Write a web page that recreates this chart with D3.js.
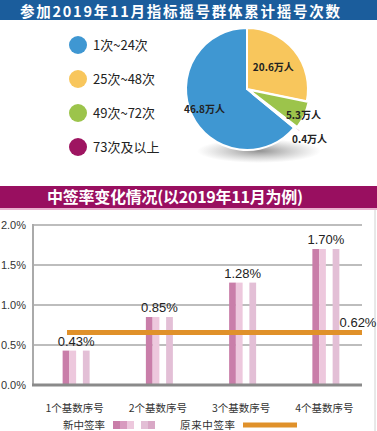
<!DOCTYPE html>
<html>
<head>
<meta charset="utf-8">
<script src="https://cdn.jsdelivr.net/npm/d3@7"></script>
<style>
  body { margin: 0; background: #fff; }
  svg { display: block; }
</style>
</head>
<body>
<svg id="chart" width="377" height="431"></svg>
<script>

// pie data: cumulative lottery count groups (10k people)
let pieCats = ["1次~24次", "25次~48次", "49次~72次", "73次及以上"];
let pieValues = [46.8, 20.6, 5.3, 0.4];
let pieColors = ["#3f97d2", "#f8c65c", "#9cc44b", "#9e1561"];

// bar data: winning rate by number of base numbers
let barCats = ["1个基数序号", "2个基数序号", "3个基数序号", "4个基数序号"];
let newRate = [0.43, 0.85, 1.28, 1.70];
let oldRate = 0.62;
let yTicks = [0, 0.5, 1.0, 1.5, 2.0];

let fontCJK = "'Noto Sans CJK SC', 'Noto Sans', sans-serif";
let fontNum = "'Liberation Sans', Arial, sans-serif";

var svg = d3.select("#chart");
var defs = svg.append("defs");

// ---------- top header ----------
svg.append("rect")
    .attr("x", 0).attr("y", 0)
    .attr("width", 377).attr("height", 20)
    .attr("fill", "#1b5d9c");

svg.append("text")
    .attr("x", 20).attr("y", 17)
    .attr("fill", "#fff")
    .attr("font-family", fontCJK)
    .attr("font-weight", "bold")
    .attr("font-size", 14.5)
    .attr("textLength", 320)
    .text("参加2019年11月指标摇号群体累计摇号次数");

// ---------- pie ----------
let total = d3.sum(pieValues);
let start = -pieValues[0] / total * 2 * Math.PI;
let pie = d3.pie().sort(null).startAngle(start).endAngle(start + 2 * Math.PI);
let arcs = pie(pieValues);

let cx = 247, cy = 89, r = 61;

// shadow under the pie
let grad = defs.append("radialGradient").attr("id", "shadow");
grad.append("stop").attr("offset", "0%").attr("stop-color", "#777").attr("stop-opacity", 0.8);
grad.append("stop").attr("offset", "100%").attr("stop-color", "#999").attr("stop-opacity", 0);

svg.append("ellipse")
    .attr("cx", cx + 12).attr("cy", cy + 62)
    .attr("rx", 62).attr("ry", 12)
    .attr("fill", "url(#shadow)");

let arc = d3.arc().innerRadius(0).outerRadius(r);
let explode = [0, 0, 2, 7];

let pieG = svg.append("g").attr("transform", `translate(${cx},${cy})`);

pieG.selectAll("path")
    .data(arcs)
    .enter()
    .append("path")
    .attr("d", arc)
    .attr("fill", (d, i) => pieColors[i])
    .attr("stroke", "#fff")
    .attr("stroke-width", 2)
    .attr("transform", (d, i) => {
        let a = (d.startAngle + d.endAngle) / 2;
        return `translate(${Math.sin(a) * explode[i]},${-Math.cos(a) * explode[i]})`;
    });

// value labels on pie
let labelR = [47, 34, 62, 80];
pieG.selectAll("text.val")
    .data(arcs)
    .enter()
    .append("text")
    .attr("class", "val")
    .attr("x", (d, i) => Math.sin((d.startAngle + d.endAngle) / 2) * labelR[i])
    .attr("y", (d, i) => -Math.cos((d.startAngle + d.endAngle) / 2) * labelR[i] + 4)
    .attr("text-anchor", "middle")
    .attr("font-family", fontCJK)
    .attr("font-weight", "bold")
    .attr("font-size", 10)
    .attr("fill", "#222")
    .text(d => d.data + "万人");

// legend
let legY = d3.scalePoint().domain(pieCats).range([45, 147]);

let leg = svg.append("g")
    .selectAll("g")
    .data(pieCats)
    .enter()
    .append("g")
    .attr("transform", d => `translate(0,${legY(d)})`);

leg.append("circle")
    .attr("cx", 78).attr("cy", 0).attr("r", 9)
    .attr("fill", (d, i) => pieColors[i]);

leg.append("text")
    .attr("x", 93).attr("y", 5)
    .attr("font-family", fontCJK)
    .attr("font-size", 13)
    .attr("fill", "#222")
    .text(d => d);

// ---------- second header ----------
svg.append("rect")
    .attr("x", 0).attr("y", 186)
    .attr("width", 377).attr("height", 22)
    .attr("fill", "#990f60");
svg.append("rect")
    .attr("x", 0).attr("y", 208)
    .attr("width", 377).attr("height", 2)
    .attr("fill", "#e9b2cf");

svg.append("text")
    .attr("x", 175).attr("y", 203)
    .attr("text-anchor", "middle")
    .attr("fill", "#fff")
    .attr("font-family", fontCJK)
    .attr("font-weight", "bold")
    .attr("font-size", 16)
    .attr("textLength", 256)
    .text("中签率变化情况(以2019年11月为例)");

// right border of panel
svg.append("line")
    .attr("x1", 375).attr("x2", 375)
    .attr("y1", 210).attr("y2", 431)
    .attr("stroke", "#d0d0d0").attr("stroke-width", 1);

// ---------- bar chart ----------
let y = d3.scaleLinear().domain([0, 2]).range([385, 225]);
let x = d3.scaleBand().domain(barCats).range([33, 366]);
let sub = d3.scaleBand().domain([0, 1, 2, 3]).range([0, 27]);
let subBars = [
    {slot: 0, color: "#c97ea9"},
    {slot: 1, color: "#edc8dd"},
    {slot: 3, color: "#e3bfd6"}
];

// gridlines
svg.append("g")
    .selectAll("line")
    .data(yTicks.filter(t => t > 0))
    .enter()
    .append("line")
    .attr("x1", 33).attr("x2", 362)
    .attr("y1", d => y(d)).attr("y2", d => y(d))
    .attr("stroke", "#bdbdbd").attr("stroke-width", 2);

// y tick labels
svg.append("g")
    .selectAll("text")
    .data(yTicks)
    .enter()
    .append("text")
    .attr("x", 26)
    .attr("y", d => y(d) + 4)
    .attr("text-anchor", "end")
    .attr("font-family", fontNum)
    .attr("font-size", 11)
    .attr("fill", "#333")
    .text(d => d.toFixed(1) + "%");

// bars
let groups = svg.append("g")
    .selectAll("g")
    .data(newRate)
    .enter()
    .append("g")
    .attr("transform", (d, i) => `translate(${x(barCats[i]) + x.bandwidth() / 2 - 12},0)`);

subBars.forEach(b => {
    groups.append("rect")
        .attr("x", sub(b.slot))
        .attr("y", d => y(d))
        .attr("width", sub.bandwidth())
        .attr("height", d => y(0) - y(d))
        .attr("fill", b.color);
});

// axis lines
svg.append("line")
    .attr("x1", 33).attr("x2", 33)
    .attr("y1", 224).attr("y2", 386)
    .attr("stroke", "#aaa").attr("stroke-width", 2);
svg.append("line")
    .attr("x1", 32).attr("x2", 362)
    .attr("y1", y(0)).attr("y2", y(0))
    .attr("stroke", "#8a8a8a").attr("stroke-width", 3);

// old rate line
svg.append("line")
    .attr("x1", 67).attr("x2", 362)
    .attr("y1", y(oldRate) - 3).attr("y2", y(oldRate) - 3)
    .attr("stroke", "#e0912a").attr("stroke-width", 5);

// bar value labels
groups.append("text")
    .attr("x", 13.5)
    .attr("y", d => y(d) - 5)
    .attr("text-anchor", "middle")
    .attr("font-family", fontNum)
    .attr("font-size", 13)
    .attr("fill", "#222")
    .text(d => d.toFixed(2) + "%");

svg.append("text")
    .attr("x", 358).attr("y", y(oldRate) - 8)
    .attr("text-anchor", "middle")
    .attr("font-family", fontNum)
    .attr("font-size", 13)
    .attr("fill", "#222")
    .text(oldRate.toFixed(2) + "%");

// x labels
svg.append("g")
    .selectAll("text")
    .data(barCats)
    .enter()
    .append("text")
    .attr("x", d => x(d) + x.bandwidth() / 2)
    .attr("y", 412)
    .attr("text-anchor", "middle")
    .attr("font-family", fontCJK)
    .attr("font-size", 10.5)
    .attr("fill", "#333")
    .text(d => d);

// ---------- bottom legend ----------
svg.append("text")
    .attr("x", 63).attr("y", 429)
    .attr("font-family", fontCJK)
    .attr("font-size", 10.5)
    .attr("textLength", 42)
    .attr("fill", "#333")
    .text("新中签率");

let legSub = d3.scaleBand().domain([0, 1, 2, 3, 4, 5]).range([113, 155]);
let legBars = [
    {slot: 0, color: "#c97ea9"},
    {slot: 1, color: "#d89bbf"},
    {slot: 2, color: "#edc8dd"},
    {slot: 4, color: "#e3bfd6"},
    {slot: 5, color: "#d9a8c6"}
];
svg.append("g")
    .selectAll("rect")
    .data(legBars)
    .enter()
    .append("rect")
    .attr("x", d => legSub(d.slot))
    .attr("y", 421)
    .attr("width", legSub.bandwidth())
    .attr("height", 8)
    .attr("fill", d => d.color);

svg.append("text")
    .attr("x", 180).attr("y", 429)
    .attr("font-family", fontCJK)
    .attr("font-size", 10.5)
    .attr("textLength", 55)
    .attr("fill", "#333")
    .text("原来中签率");

svg.append("line")
    .attr("x1", 243).attr("x2", 297)
    .attr("y1", 425).attr("y2", 425)
    .attr("stroke", "#e0912a").attr("stroke-width", 5);

</script>
</body>
</html>
